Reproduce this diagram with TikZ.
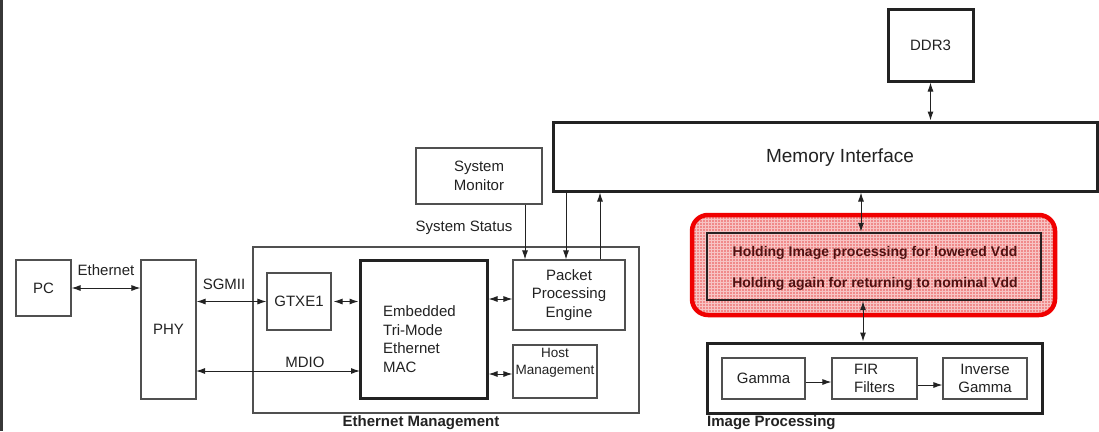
\documentclass[tikz,border=0pt]{standalone}
\usepackage{fontspec}
\setmainfont{Liberation Sans}
\usetikzlibrary{arrows.meta}
\definecolor{ink}{RGB}{34,34,34}
\definecolor{thinline}{RGB}{80,80,80}
\definecolor{holdfill}{RGB}{240,138,138}
\definecolor{holdred}{RGB}{240,0,0}
\definecolor{holdtext}{RGB}{80,16,16}
\tikzset{
  base/.style={font=\fontsize{15}{18.5}\selectfont, text=ink, inner sep=0pt},
  thinbox/.style={base, draw=thinline, line width=1.1pt, align=center},
  thickbox/.style={base, draw=ink, line width=3pt, align=center},
  lbl/.style={base},
  boldlbl/.style={base, font=\fontsize{15}{18}\selectfont\bfseries},
  conn/.style={draw=ink, line width=1pt, -{Latex[length=9pt,width=6pt]}},
  biconn/.style={draw=ink, line width=1pt, {Latex[length=9pt,width=6pt]}-{Latex[length=9pt,width=6pt]}},
}
\begin{document}
\begin{tikzpicture}[x=1pt,y=-1pt]
\useasboundingbox (0,0) rectangle (1099,431);
\fill[white] (0,0) rectangle (1099,431);
\fill[black!78] (0,0) rectangle (3,431);

% Ethernet side
\node[thinbox, minimum width=55pt, minimum height=56pt] (pc) at (43.5,288) {PC};
\node[thinbox, minimum width=55pt, minimum height=139pt] (phy) at (168.5,329.5) {PHY};
\node[thinbox, minimum width=126pt, minimum height=56pt] (sysmon) at (479,176) {System\\Monitor};
\node[thinbox, minimum width=386pt, minimum height=166pt] (ethmgmt) at (446,330) {};
\node[thinbox, minimum width=64pt, minimum height=57pt] (gtx) at (299,301.5) {GTXE1};
\node[thickbox, minimum width=127pt, minimum height=138pt] (emac) at (423.5,329) {};
\node[base, anchor=west, align=left] (emactext) at (383,339) {Embedded\\Tri-Mode\\Ethernet\\MAC};
\node[thinbox, minimum width=112pt, minimum height=70pt] (ppe) at (569,295) {Packet\\Processing\\Engine};
\node[thinbox, minimum width=84pt, minimum height=53pt] (host) at (555,371.5) {};
\node[base, align=center, font=\fontsize{13.5}{17}\selectfont] (hosttext) at (555,363) {Host\\Management};

% memory side
\node[thickbox, minimum width=544pt, minimum height=69pt] (mem) at (825,156.5) {};
\node[base, font=\fontsize{19}{22}\selectfont] (memtext) at (840,158) {Memory Interface};
\node[thickbox, minimum width=85pt, minimum height=72pt] (ddr) at (930.5,45) {DDR3};

% holding stage
\path[fill=holdfill, rounded corners=16pt] (692,215) rectangle (1055,315);
\begin{scope}
  \clip[rounded corners=16pt] (692,215) rectangle (1055,315);
  \draw[white, opacity=0.5, line width=0.6pt, step=3pt] (690,213) grid (1057,317);
\end{scope}
\draw[holdred, line width=4.5pt, rounded corners=16pt] (692,215) rectangle (1055,315);
\node[draw=ink!90!holdtext, line width=2.4pt, minimum width=334pt, minimum height=67pt, inner sep=0pt] (hold) at (874,266.5) {};
\node[base, text=holdtext, font=\fontsize{14}{16}\selectfont\bfseries] (holdA) at (875,252.5) {Holding Image processing for lowered Vdd};
\node[base, text=holdtext, font=\fontsize{14}{16}\selectfont\bfseries] (holdB) at (875,283.5) {Holding again for returning to nominal Vdd};

% image processing
\node[thickbox, minimum width=335pt, minimum height=70pt] (imgproc) at (874.5,378) {};
\node[thinbox, minimum width=83pt, minimum height=41pt] (gamma) at (763.5,378.5) {Gamma};
\node[thinbox, minimum width=85pt, minimum height=41pt, align=left] (fir) at (874.5,378.5) {FIR\\Filters};
\node[thinbox, minimum width=84pt, minimum height=41pt] (invgamma) at (985,378.5) {Inverse\\Gamma};

% labels
\node[lbl] (lethernet) at (106,270) {Ethernet};
\node[lbl] (lsgmii) at (224,284) {SGMII};
\node[lbl] (lmdio) at (305,362) {MDIO};
\node[lbl] (lstatus) at (464,228) {System Status};
\node[boldlbl] (lethmgmt) at (421,423) {Ethernet Management};
\node[boldlbl, anchor=west] (limgproc) at (707,423) {Image Processing};

% connectors
\coordinate (mdioA) at (196,371);
\coordinate (mdioB) at (360,371);
\draw[biconn] (pc.east) -- (pc.east -| phy.west);
\draw[biconn] (phy.east |- gtx.west) -- (gtx.west);
\draw[biconn] (mdioA) -- (mdioB);
\draw[biconn] ([xshift=2pt]gtx.east) -- (gtx.east -| emac.west);
\draw[biconn] (emac.east |- 0,299) -- (ppe.west |- 0,299);
\draw[biconn] (emac.east |- 0,374) -- (host.west |- 0,374);
\draw[conn] (sysmon.south -| 525,0) -- (ppe.north -| 525,0);
\draw[conn] (mem.south -| 566,0) -- (ppe.north -| 566,0);
\draw[conn] (ppe.north -| 600,0) -- (mem.south -| 600,0);
\draw[biconn] (ddr.south) -- (ddr.south |- mem.north);
\draw[biconn] (mem.south -| 861,0) -- (hold.north -| 861,0);
\draw[biconn] (hold.south -| 863,0) -- (imgproc.north -| 863,0);
\draw[conn] (gamma.east |- 0,382) -- (fir.west |- 0,382);
\draw[conn] (fir.east |- 0,385) -- (invgamma.west |- 0,385);
\end{tikzpicture}
\end{document}
